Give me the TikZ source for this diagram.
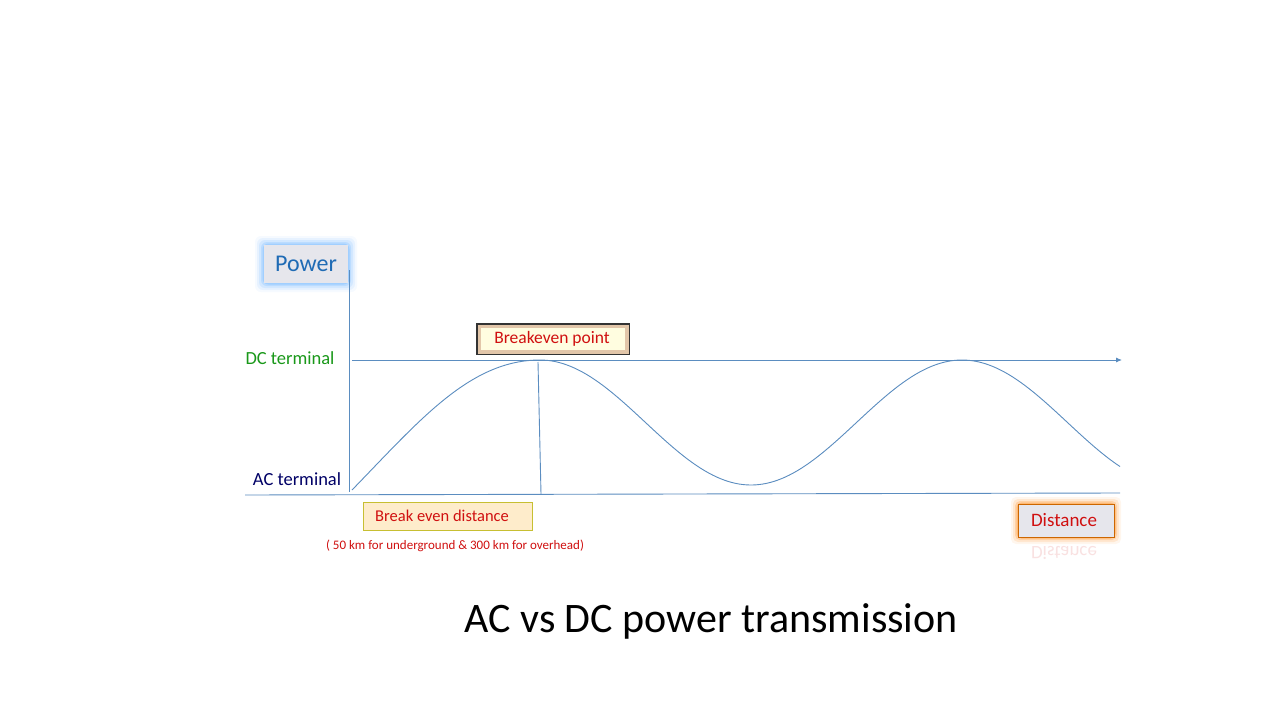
\documentclass[tikz,border=0pt]{standalone}
\usepackage{fontspec}
\setmainfont{Carlito}
\usetikzlibrary{arrows.meta}
\definecolor{ax}{HTML}{5B8DC0}
\definecolor{redt}{HTML}{D01010}
\definecolor{pblue}{HTML}{1F6BB5}
\definecolor{gbox}{HTML}{E6E6EC}
\tikzset{axline/.style={draw=ax,line width=0.9pt},
 lbl/.style={inner sep=0pt,anchor=center}}
\begin{document}
\begin{tikzpicture}[x=1pt,y=-1pt]
\useasboundingbox[fill=white] (0,0) rectangle (1280,720);
% Power glow box
\foreach \i/\o in {9/0.06,7/0.1,5/0.15,3/0.22,1.5/0.3}{
 \fill[blue!50!cyan!60,opacity=\o,rounded corners=6] (264-\i,245-\i) rectangle (348+\i,283+\i);}
\fill[gbox] (264,245) rectangle (348,283);
\node[lbl,text=pblue,font=\fontsize{24}{26}\selectfont] (power) at (306,264) {Power};
% axes
\coordinate (o) at (349,492);
\coordinate (ytop) at (349,270);
\draw[axline] (ytop) -- (o);
\coordinate (dcs) at (352,360);
\coordinate (dce) at (1122,360);
\draw[axline,-{Latex[length=6pt,width=5pt]}] (dcs) -- (dce);
\coordinate (bl) at (245,495);
\coordinate (br) at (1120,493);
\draw[axline] (bl) -- (br);
% curve
\draw[ax,line width=0.9pt] (352,490) .. controls (420,420) and (470,360) .. (540,360) -- plot[domain=540:1120,samples=100,smooth] (\x,{422.5-62.5*cos(0.8531*(\x-540))});
\coordinate (bp) at (538,362);
\coordinate (bd) at (541,494);
\draw[axline] (bp) -- (bd);
% labels
\node[lbl,text=green!55!black!90,font=\fontsize{18.5}{20}\selectfont] (dc) at (290,358) {DC terminal};
\node[lbl,text=blue!40!black,font=\fontsize{18.5}{20}\selectfont] (ac) at (297,479) {AC terminal};
% breakeven box
\fill[black!80] (476,323) rectangle (630,355);
\fill[brown!45!white] (477.5,324.5) rectangle (628.5,353.5);
\fill[yellow!12!white] (481,328) rectangle (625,350);
\node[lbl,text=redt,font=\fontsize{17.5}{19}\selectfont] (be) at (552,339) {Breakeven point};
% break even distance
\draw[fill=yellow!25!orange!18!white,draw=yellow!75!black,line width=1pt] (363,502) rectangle (532,530);
\node[lbl,text=redt,font=\fontsize{16.5}{18}\selectfont] (bed) at (442,516) {Break even distance};
\node[lbl,text=redt,font=\fontsize{13}{15}\selectfont] (sub) at (455,546) {( 50 km for underground \& 300 km for overhead)};
% distance
\foreach \i/\o in {7/0.07,5/0.12,3/0.2,1.5/0.3}{
 \fill[orange,opacity=\o,rounded corners=5] (1018-\i,504-\i) rectangle (1114+\i,537+\i);}
\draw[fill=gbox,draw=orange!80!black,line width=0.8pt] (1018,504) rectangle (1114,537);
\node[lbl,text=redt,font=\fontsize{19}{21}\selectfont] (dist) at (1064,520) {Distance};
\node[lbl,text=redt,opacity=0.12,yscale=-1,font=\fontsize{19}{21}\selectfont] (distr) at (1064,553) {Distance};
% title
\node[lbl,text=black,font=\fontsize{42}{44}\selectfont] (title) at (711,621) {AC vs DC power transmission};
\end{tikzpicture}
\end{document}
